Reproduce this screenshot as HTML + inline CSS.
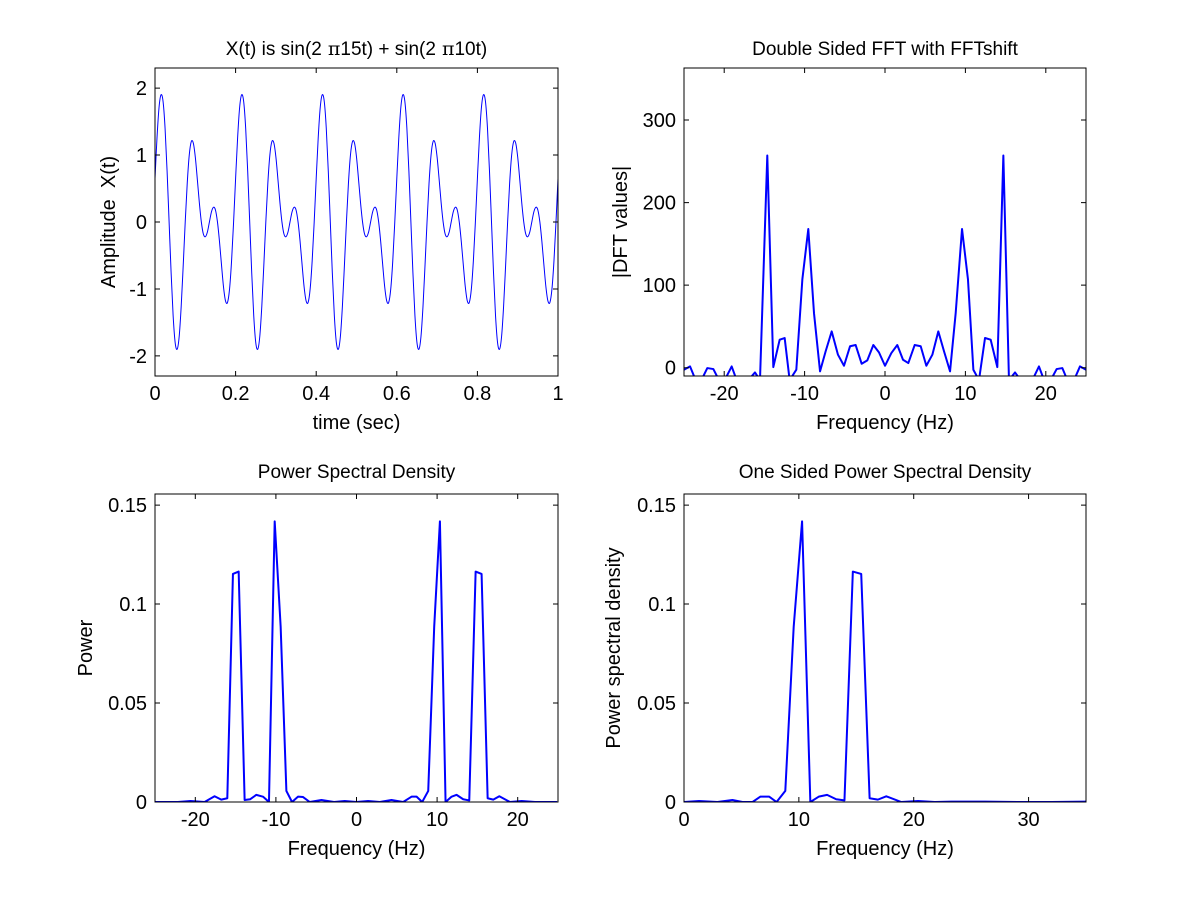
<!DOCTYPE html>
<html><head><meta charset="utf-8"><style>
html,body{margin:0;padding:0;background:#fff;}
svg{display:block;font-family:"Liberation Sans",Arial,sans-serif;}
</style></head><body>
<svg id="fig" width="1200" height="900" viewBox="0 0 1200 900" xmlns="http://www.w3.org/2000/svg">
<rect x="0" y="0" width="1200" height="900" fill="#fff"/>
</svg>
<script>
// ---- Data: top-left time signal (t step 0.005 s) ----
const timeValues = [
0.65,1.26,1.71,1.90,1.80,1.40,0.76,0,-0.76,-1.40,-1.80,-1.90,-1.71,-1.26,-0.65,0,0.58,1.00,1.20,1.18,0.97,0.64,0.29,0,-0.18,-0.22,-0.15,0,0.15,0.22,0.18,0,-0.29,-0.64,-0.97,-1.18,-1.20,-1.00,-0.58,0,
0.65,1.26,1.71,1.90,1.80,1.40,0.76,0,-0.76,-1.40,-1.80,-1.90,-1.71,-1.26,-0.65,0,0.58,1.00,1.20,1.18,0.97,0.64,0.29,0,-0.18,-0.22,-0.15,0,0.15,0.22,0.18,0,-0.29,-0.64,-0.97,-1.18,-1.20,-1.00,-0.58,0,
0.65,1.26,1.71,1.90,1.80,1.40,0.76,0,-0.76,-1.40,-1.80,-1.90,-1.71,-1.26,-0.65,0,0.58,1.00,1.20,1.18,0.97,0.64,0.29,0,-0.18,-0.22,-0.15,0,0.15,0.22,0.18,0,-0.29,-0.64,-0.97,-1.18,-1.20,-1.00,-0.58,0,
0.65,1.26,1.71,1.90,1.80,1.40,0.76,0,-0.76,-1.40,-1.80,-1.90,-1.71,-1.26,-0.65,0,0.58,1.00,1.20,1.18,0.97,0.64,0.29,0,-0.18,-0.22,-0.15,0,0.15,0.22,0.18,0,-0.29,-0.64,-0.97,-1.18,-1.20,-1.00,-0.58,0,
0.65,1.26,1.71,1.90,1.80,1.40,0.76,0,-0.76,-1.40,-1.80,-1.90,-1.71,-1.26,-0.65,0,0.58,1.00,1.20,1.18,0.97,0.64,0.29,0,-0.18,-0.22,-0.15,0,0.15,0.22,0.18,0,-0.29,-0.64,-0.97,-1.18,-1.20,-1.00,-0.58,0,
0.65];
const timeStep = 0.005;

// ---- Data: top-right double-sided FFT ----
const dftFreq = [-25.0,-24.25,-23.55,-22.84,-22.10,-21.35,-20.65,-19.94,-19.07,-18.45,-17.74,-17.0,-16.17,-15.55,-14.64,-13.89,-13.10,-12.48,-11.86,-11.03,-10.28,-9.54,-8.83,-8.08,-7.38,-6.63,-5.85,-5.10,-4.35,-3.65,-2.90,-2.20,-1.45,-0.75,0.0,0.79,1.53,2.24,2.90,3.69,4.44,5.14,5.89,6.63,7.34,8.09,8.79,9.58,10.32,10.99,11.69,12.44,13.14,13.97,14.72,15.42,16.17,16.87,17.62,18.33,19.15,19.78,20.61,21.35,22.06,22.68,23.51,24.25,25.0];
const dftValues = [-2.4,1.6,-15,-15,-0.4,-1.6,-15,-15,1.6,-15,-15,-15,-5.7,-15,257,0.8,34,36,-15,-2.4,107,168,66,-4.4,20,44,15.8,2.4,26,27.5,4.8,8.9,27.5,18.6,2.4,17.8,27.5,9.7,5.7,27.5,26,2.4,15.8,44,20,-4.4,66,168,107,-2.4,-15,36,34,0.8,257,-15,-5.7,-15,-15,-15,1.6,-15,-15,-1.6,-0.4,-15,-15,1.6,-2.4];

// ---- Data: bottom-left PSD ----
const psdFreq = [-25.06,-23.61,-22.16,-20.59,-18.85,-17.61,-16.78,-16.03,-15.33,-14.62,-13.88,-13.18,-12.43,-11.60,-10.86,-10.15,-9.41,-8.70,-8.00,-7.25,-6.63,-5.80,-4.35,-2.78,-1.46,-0.01,1.44,2.89,4.34,5.79,6.83,7.45,8.15,8.90,9.64,10.35,11.05,11.80,12.42,13.24,13.99,14.78,15.52,16.27,16.97,17.72,19.04,20.49,22.15,23.39,24.88];
const psdValues = [0,0,0,0.0005,0,0.0029,0.0012,0.0019,0.1152,0.1164,0.001,0.0014,0.0036,0.0027,0,0.1418,0.0885,0.0056,0,0.0027,0.0025,0,0.001,0,0.0005,0,0.0005,0,0.001,0,0.0027,0.0027,0,0.0056,0.0885,0.1418,0,0.0027,0.0036,0.0014,0.0008,0.1164,0.1152,0.0019,0.0012,0.0029,0,0.0005,0,0,0];

// ---- Data: bottom-right one-sided PSD ----
const oneFreq = [0,1.31,2.91,4.22,5.09,5.97,6.64,7.42,8.06,8.82,9.55,10.28,11.00,11.73,12.46,13.25,13.97,14.70,15.43,16.16,16.88,17.61,18.92,20.38,21.83,23.29,26.2,29.11,32.02,35.1];
const oneValues = [0,0.0005,0,0.001,0,0,0.0027,0.0027,0,0.0056,0.0885,0.1418,0,0.0027,0.0036,0.0014,0.0008,0.1164,0.1152,0.0019,0.0012,0.0029,0,0.0005,0,0.0002,0.0002,0,0,0.0002];

// ---- Tick labels ----
const tlXTicks = [0,0.2,0.4,0.6,0.8,1];
const tlXLabels = ["0","0.2","0.4","0.6","0.8","1"];
const tlYTicks = [-2,-1,0,1,2];
const tlYLabels = ["-2","-1","0","1","2"];
const frXTicks = [-20,-10,0,10,20];
const frXLabels = ["-20","-10","0","10","20"];
const trYTicks = [0,100,200,300];
const trYLabels = ["0","100","200","300"];
const psdYTicks = [0,0.05,0.1,0.15];
const psdYLabels = ["0","0.05","0.1","0.15"];
const brXTicks = [0,10,20,30];
const brXLabels = ["0","10","20","30"];

const NS = "http://www.w3.org/2000/svg";
const fig = document.getElementById('fig');
function mk(tag, attrs, parent){
  const e = document.createElementNS(NS, tag);
  for (const k in attrs) e.setAttribute(k, attrs[k]);
  (parent||fig).appendChild(e);
  return e;
}
let clipId = 0;
function axes(name, box, xlim, ylim, xt, xl, yt, yl){
  const g = mk('g', {});
  
  
  const sx = v => box.x0 + (v - xlim[0]) / (xlim[1] - xlim[0]) * (box.x1 - box.x0);
  const sy = v => box.y1 - (v - ylim[0]) / (ylim[1] - ylim[0]) * (box.y1 - box.y0);
  const id = 'clip' + (clipId++);
  const cp = mk('clipPath', {id: id}, g);
  mk('rect', {x: box.x0, y: box.y0, width: box.x1 - box.x0, height: box.y1 - box.y0}, cp);
  const plot = mk('g', {'clip-path': 'url(#' + id + ')'}, g);
  xt.forEach((v, i) => {
    const x = sx(v);
    const tk = mk('path', {d: `M${x},${box.y1}v-5M${x},${box.y0}v5`, stroke: '#000', 'stroke-width': 1}, g);
    
    
    const t = mk('text', {x: x, y: box.y1 + 24, 'text-anchor': 'middle', 'font-size': 20}, g);
    
    
    t.textContent = xl[i];
  });
  yt.forEach((v, i) => {
    const y = sy(v);
    const tk = mk('path', {d: `M${box.x0},${y}h5M${box.x1},${y}h-5`, stroke: '#000', 'stroke-width': 1}, g);
    
    
    const t = mk('text', {x: box.x0 - 8, y: y + 7, 'text-anchor': 'end', 'font-size': 20}, g);
    
    
    t.textContent = yl[i];
  });
  const fr = mk('rect', {x: box.x0, y: box.y0, width: box.x1 - box.x0, height: box.y1 - box.y0, fill: 'none', stroke: '#000', 'stroke-width': 1}, g);
  
  
  return {g, plot, sx, sy};
}
function label(txt, x, y, size, rot, name){
  const t = mk('text', {x: x, y: y, 'text-anchor': 'middle', 'font-size': size}, fig);
  t.setAttribute('xml:space', 'preserve');
  t.style.whiteSpace = 'pre';
  if (rot) t.setAttribute('transform', `rotate(-90 ${x} ${y})`);
  
  
  t.innerHTML = txt;
  return t;
}
function polyline(ax, xs, ys, w, name){
  let d = '';
  xs.forEach((v, i) => { d += (i ? 'L' : 'M') + ax.sx(v).toFixed(2) + ',' + ax.sy(ys[i]).toFixed(2); });
  const p = mk('path', {d: d, fill: 'none', stroke: '#0000ff', 'stroke-width': w, 'stroke-linejoin': 'round'}, ax.plot);
  
  
}
function smooth(ax, xs, ys, w, name){
  const P = xs.map((v, i) => [ax.sx(v), ax.sy(ys[i])]);
  let d = 'M' + P[0][0] + ',' + P[0][1];
  for (let i = 0; i < P.length - 1; i++){
    const p0 = P[Math.max(0, i - 1)], p1 = P[i], p2 = P[i + 1], p3 = P[Math.min(P.length - 1, i + 2)];
    const c1 = [p1[0] + (p2[0] - p0[0]) / 6, p1[1] + (p2[1] - p0[1]) / 6];
    const c2 = [p2[0] - (p3[0] - p1[0]) / 6, p2[1] - (p3[1] - p1[1]) / 6];
    d += `C${c1[0].toFixed(2)},${c1[1].toFixed(2)} ${c2[0].toFixed(2)},${c2[1].toFixed(2)} ${p2[0].toFixed(2)},${p2[1].toFixed(2)}`;
  }
  const p = mk('path', {d: d, fill: 'none', stroke: '#0000ff', 'stroke-width': w}, ax.plot);
  
  
}

// Top-left
const a1 = axes('time-signal-axes', {x0:155, y0:68, x1:558, y1:376}, [0,1], [-2.3,2.3], tlXTicks, tlXLabels, tlYTicks, tlYLabels);
const tArr = timeValues.map((v, i) => i * timeStep);
smooth(a1, tArr, timeValues, 1, 'signal-line');
label('X(t) is sin(2<tspan font-family="DejaVu Serif"> π</tspan>15t) + sin(2<tspan font-family="DejaVu Serif"> π</tspan>10t)', 356.5, 55, 19, false, 'time-chart-title');
label('time (sec)', 356.5, 429, 20, false, 'x-axis-title');
label('Amplitude&#160; X(t)', 115, 222, 20, true, 'y-axis-title');

// Top-right
const a2 = axes('fft-axes', {x0:684, y0:68, x1:1086, y1:376}, [-25,25], [-10,363], frXTicks, frXLabels, trYTicks, trYLabels);
polyline(a2, dftFreq, dftValues, 2, 'dft-line');
label('Double Sided FFT with FFTshift', 885, 55, 19, false, 'fft-chart-title');
label('Frequency (Hz)', 885, 429, 20, false, 'x-axis-title');
label('|DFT values|', 627, 222, 20, true, 'y-axis-title');

// Bottom-left
const a3 = axes('psd-axes', {x0:155, y0:494, x1:558, y1:802}, [-25,25], [0,0.1556], frXTicks, frXLabels, psdYTicks, psdYLabels);
polyline(a3, psdFreq, psdValues, 2, 'psd-line');
label('Power Spectral Density', 356.5, 478, 19, false, 'psd-chart-title');
label('Frequency (Hz)', 356.5, 855, 20, false, 'x-axis-title');
label('Power', 92, 648, 20, true, 'y-axis-title');

// Bottom-right
const a4 = axes('one-sided-psd-axes', {x0:684, y0:494, x1:1086, y1:802}, [0,35], [0,0.1556], brXTicks, brXLabels, psdYTicks, psdYLabels);
polyline(a4, oneFreq, oneValues, 2, 'one-sided-psd-line');
label('One Sided Power Spectral Density', 885, 478, 19, false, 'one-sided-chart-title');
label('Frequency (Hz)', 885, 855, 20, false, 'x-axis-title');
label('Power spectral density', 620, 648, 20, true, 'y-axis-title');
</script>
</body></html>
